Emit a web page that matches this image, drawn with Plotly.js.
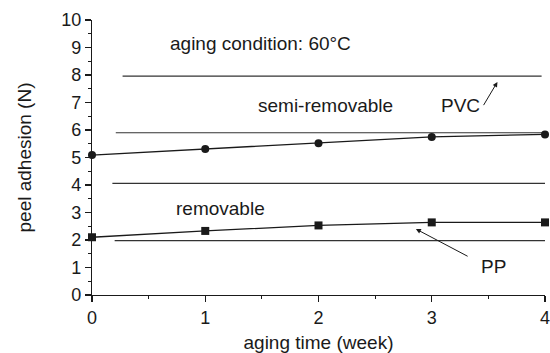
<!DOCTYPE html>
<html>
<head>
<meta charset="utf-8">
<script src="https://cdn.plot.ly/plotly-3.0.1.min.js"></script>
<style>html,body{margin:0;padding:0;background:#fff;}#chart{width:550px;height:353px;}</style>
</head>
<body>
<div id="chart"></div>
<script>
const weeks = [0, 1, 2, 3, 4];
const pvcAdhesion = [5.09, 5.31, 5.52, 5.75, 5.84];
const ppAdhesion = [2.10, 2.33, 2.53, 2.64, 2.64];

// boundary guide lines: level, start week, end week
const boundaryLevels = [7.96, 5.9, 4.06, 1.98];
const boundaryStart = [0.27, 0.21, 0.18, 0.2];
const boundaryEnd = [3.97, 4.0, 4.0, 4.0];

const FONT = 'Liberation Sans, Arial, sans-serif';
const INK = '#1a1a1a';

const traces = [];
boundaryLevels.forEach((lv, i) => {
  traces.push({
    x: [boundaryStart[i], boundaryEnd[i]], y: [lv, lv],
    mode: 'lines', line: {color: '#333', width: 1.2},
    hoverinfo: 'skip', showlegend: false, cliponaxis: false
  });
});
traces.push({
  x: weeks, y: pvcAdhesion, name: 'PVC', mode: 'lines+markers',
  line: {color: INK, width: 1.3}, marker: {symbol: 'circle', size: 8, color: INK},
  cliponaxis: false, showlegend: false
});
traces.push({
  x: weeks, y: ppAdhesion, name: 'PP', mode: 'lines+markers',
  line: {color: INK, width: 1.3}, marker: {symbol: 'square', size: 8, color: INK},
  cliponaxis: false, showlegend: false
});

const txt = (text, x, y) => ({text, x, y, xref: 'x', yref: 'y', xanchor: 'left', yanchor: 'middle',
  showarrow: false, font: {family: FONT, size: 19, color: INK}});

const layout = {
  width: 550, height: 353,
  margin: {l: 92, r: 5, t: 20, b: 58},
  paper_bgcolor: '#fff', plot_bgcolor: '#fff',
  font: {family: FONT, size: 18, color: INK},
  xaxis: {
    range: [0, 4], showgrid: false, zeroline: false,
    showline: true, linecolor: INK, linewidth: 1.2,
    ticks: 'outside', ticklen: 6, tickcolor: INK, tickwidth: 1.2,
    tickvals: weeks, ticktext: weeks.map(String),
    ticklabeloverflow: 'allow',
    tickfont: {family: FONT, size: 18, color: INK},
    minor: {dtick: 0.5, ticks: 'outside', ticklen: 3, tickcolor: INK, showgrid: false},
    title: {text: 'aging time (week)', font: {family: FONT, size: 19, color: INK}, standoff: 16}
  },
  yaxis: {
    range: [0, 10], showgrid: false, zeroline: false,
    showline: true, linecolor: INK, linewidth: 1.2,
    ticks: 'outside', ticklen: 6, tickcolor: INK, tickwidth: 1.2,
    dtick: 1,
    tickfont: {family: FONT, size: 18, color: INK},
    minor: {dtick: 0.5, ticks: 'outside', ticklen: 3, tickcolor: INK, showgrid: false},
    title: {text: 'peel adhesion (N)', font: {family: FONT, size: 19, color: INK}, standoff: 24}
  },
  annotations: [
    txt('aging condition: 60°C', 0.67, 9.16),
    txt('semi-removable', 1.45, 6.9),
    txt('PVC', 3.06, 6.9),
    txt('removable', 0.72, 3.16),
    txt('PP', 3.42, 1.02),
    {x: 3.58, y: 7.75, ax: 3.45, ay: 6.85, xref: 'x', yref: 'y', axref: 'x', ayref: 'y',
     showarrow: true, arrowhead: 2, arrowsize: 1, arrowwidth: 1, arrowcolor: INK, text: ''},
    {x: 2.86, y: 2.4, ax: 3.33, ay: 1.38, xref: 'x', yref: 'y', axref: 'x', ayref: 'y',
     showarrow: true, arrowhead: 2, arrowsize: 1, arrowwidth: 1, arrowcolor: INK, text: ''}
  ],
  showlegend: false
};

Plotly.newPlot('chart', traces, layout, {staticPlot: true, displayModeBar: false});
</script>
</body>
</html>
